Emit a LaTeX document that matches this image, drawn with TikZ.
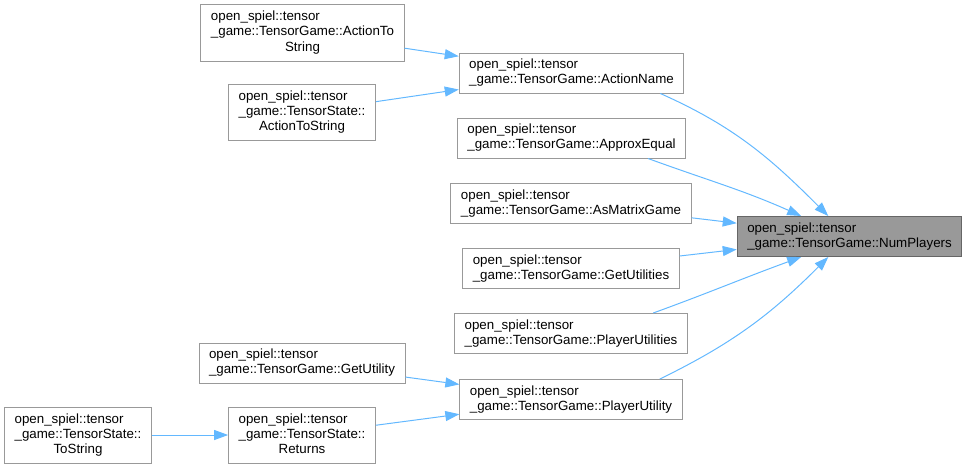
\documentclass[tikz,border=0pt]{standalone}
\usepackage{fontspec}
\setmainfont{Liberation Sans}
\usetikzlibrary{arrows.meta}
\definecolor{edgeblue}{HTML}{63B8FF}
\definecolor{boxgrey}{HTML}{999999}
\definecolor{rootgrey}{HTML}{666666}
\newcommand{\fnthree}[3]{\begin{tabular}{@{}l@{}}#1\\#2\\\multicolumn{1}{@{}c@{}}{#3}\end{tabular}}

\begin{document}
\begin{tikzpicture}
[x=0.75pt, y=0.75pt,
 every node/.style={font=\fontsize{10}{11.25}\selectfont, align=left, rectangle, draw=boxgrey, line width=0.75pt, inner xsep=7.5pt, minimum height=30pt},
 three/.style={minimum height=42pt},
 root/.style={fill=boxgrey, draw=rootgrey},
 every edge/.append style={draw=edgeblue, line width=0.75pt},
 >={Triangle[length=10.5pt,width=7.5pt]}]
\useasboundingbox (0,0) rectangle (966,469);
\node (tgats) at (302.5,436) [three] {\fnthree{open\_spiel::tensor}{\_game::TensorGame::ActionTo}{String}};
\node (tsats) at (302,356.5) [three] {\fnthree{open\_spiel::tensor}{\_game::TensorState::}{ActionToString}};
\node (an) at (571.5,396) {open\_spiel::tensor\\\_game::TensorGame::ActionName};
\node (ae) at (571.5,331) {open\_spiel::tensor\\\_game::TensorGame::ApproxEqual};
\node (amg) at (571,265.5) {open\_spiel::tensor\\\_game::TensorGame::AsMatrixGame};
\node (np) at (849.5,232.5) [root] {open\_spiel::tensor\\\_game::TensorGame::NumPlayers};
\node (gus) at (571,200.5) {open\_spiel::tensor\\\_game::TensorGame::GetUtilities};
\node (pus) at (571,135.5) {open\_spiel::tensor\\\_game::TensorGame::PlayerUtilities};
\node (gu) at (302,106) {open\_spiel::tensor\\\_game::TensorGame::GetUtility};
\node (pu) at (571,69.5) {open\_spiel::tensor\\\_game::TensorGame::PlayerUtility};
\node (ret) at (302,34) [three] {\fnthree{open\_spiel::tensor}{\_game::TensorState::}{Returns}};
\node (ts) at (78,34) [three] {\fnthree{open\_spiel::tensor}{\_game::TensorState::}{ToString}};
\draw [->] (tgats) edge (an);
\draw [->] (tsats) edge (an);
\draw (an.-13) edge [->, out=-24, in=135] (np.136);
\draw (ae.-15) edge [->, out=-20, in=156] (np.157);
\draw [->] (amg) edge (np);
\draw [->] (gus) edge (np);
\draw (pus.14) edge [->, out=20, in=-160] (np.-157);
\draw (pu.13) edge [->, out=26, in=-135] (np.-136);
\draw [->] (gu) edge (pu);
\draw [->] (ret) edge (pu);
\draw [->] (ts) edge (ret);
\end{tikzpicture}
\end{document}
